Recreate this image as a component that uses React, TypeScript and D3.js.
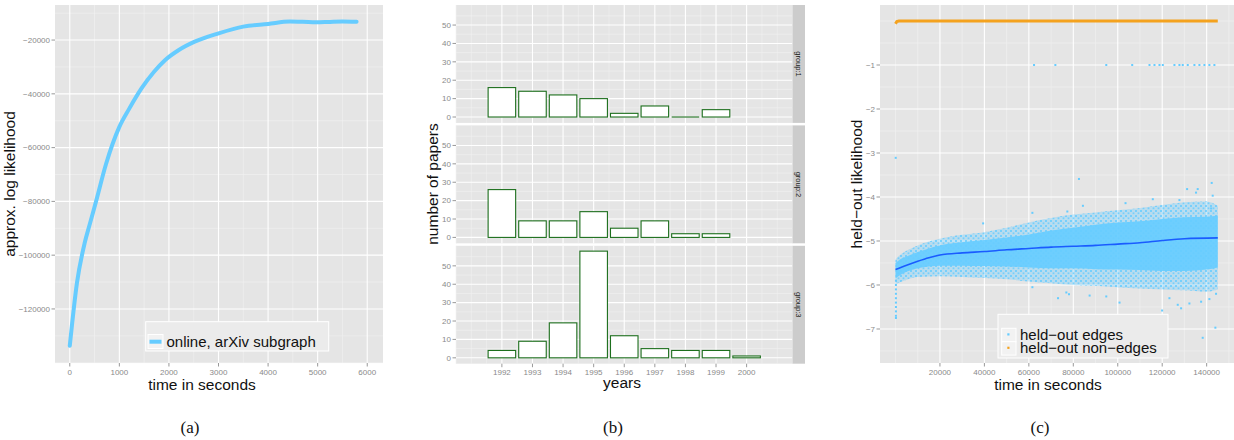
import React from "react";
import * as d3 from "d3";

// ---- panel (a): approx. log likelihood over time ----
const timeA = [0, 145, 300, 400, 530, 730, 1000, 1200, 1450, 1700, 1920, 2200, 2520, 3000, 3500, 4000, 4440, 4700, 4970, 5200, 5500, 5785];
const llA = [-133700, -110300, -95500, -88700, -80000, -66200, -52300, -45500, -37900, -31800, -27500, -23700, -20600, -17500, -15000, -14000, -13100, -13200, -13400, -13300, -13100, -13200];
const xTicksA = [0, 1000, 2000, 3000, 4000, 5000, 6000];
const yTicksA = [-120000, -100000, -80000, -60000, -40000, -20000];

// ---- panel (b): number of papers per year, per group ----
const years = [1992, 1993, 1994, 1995, 1996, 1997, 1998, 1999, 2000];
const group1 = [16, 14, 12, 10, 2, 6, 0, 4];
const group2 = [26, 9, 9, 14, 5, 9, 2, 2];
const group3 = [4, 9, 19, 58, 12, 5, 4, 4, 1];
const groupNames = ["group:1", "group:2", "group:3"];
const yTicksB = [0, 10, 20, 30, 40, 50];

// ---- panel (c): held-out likelihood ----
const xTicksC = [20000, 40000, 60000, 80000, 100000, 120000, 140000];
const yTicksC = [-7, -6, -5, -4, -3, -2, -1];
const smoothT = [0, 5000, 10000, 15000, 20000, 30000, 40000, 50000, 60000, 70000, 80000, 90000, 100000, 110000, 120000, 130000, 145000];
const smoothV = [-5.65, -5.55, -5.46, -5.38, -5.32, -5.27, -5.24, -5.2, -5.17, -5.14, -5.12, -5.1, -5.07, -5.04, -4.99, -4.95, -4.93];
const cloudT = [0, 2000, 5000, 10000, 20000, 30000, 40000, 50000, 60000, 70000, 80000, 90000, 100000, 110000, 120000, 130000, 140000, 145000];
const coreLow = [-5.85, -5.78, -5.7, -5.62, -5.56, -5.56, -5.57, -5.58, -5.6, -5.62, -5.62, -5.64, -5.65, -5.66, -5.68, -5.68, -5.65, -5.6];
const coreHigh = [-5.5, -5.42, -5.35, -5.25, -5.1, -5.03, -4.98, -4.92, -4.85, -4.76, -4.7, -4.63, -4.58, -4.55, -4.5, -4.46, -4.45, -4.42];
const outerLow = [-5.98, -5.94, -5.88, -5.82, -5.8, -5.82, -5.84, -5.87, -5.92, -5.96, -6.0, -6.02, -6.05, -6.08, -6.1, -6.12, -6.15, -6.1];
const outerHigh = [-5.42, -5.32, -5.22, -5.1, -4.95, -4.86, -4.8, -4.7, -4.58, -4.48, -4.4, -4.35, -4.3, -4.25, -4.18, -4.12, -4.1, -4.2];
const outlierT = [62330, 71930, 94830, 106500, 114280, 116520, 118770, 120270, 125500, 127750, 129240, 131490, 134490, 136740, 138990, 141230, 143480,
  100, 82540, 142270, 131200, 135970, 135220, 142720,
  73130, 78060, 76860, 87340, 94830, 61590, 115020, 119960, 123250, 126990, 132240, 138220, 143920, 141230, 144220, 137500, 100800, 128500,
  39430, 61590, 77310, 84320, 103500, 115770, 127750, 142000,
  200, 200, 200, 200, 200, 200, 200, 200, 200, 200];
const outlierV = [-1, -1, -1, -1, -1, -1, -1, -1, -1, -1, -1, -1, -1, -1, -1, -1, -1,
  -3.11, -3.59, -3.68, -3.82, -3.82, -3.9, -3.97,
  -6.3, -6.21, -6.17, -6.24, -6.26, -6.05, -6.73, -6.58, -6.3, -6.45, -6.42, -7.2, -6.97, -6.32, -6.2, -6.38, -6.4, -6.53,
  -4.6, -4.36, -4.33, -4.2, -4.14, -4.05, -4.07, -4.26,
  -5.9, -6.0, -6.1, -6.2, -6.3, -6.4, -6.5, -6.6, -6.7, -6.75];
const nonEdgeT = [0, 600, 1500, 145000];
const nonEdgeV = [-0.06, -0.01, 0, 0];

const FONT = "'Liberation Sans', Arial, Helvetica, sans-serif";
const PANEL_BG = "#e5e5e5";
const TICK_COL = "#7f7f7f";
const TICK_TXT = "#8a8a8a";
const EDGE_BLUE = "#66ccff";
const BAR_GREEN = "#1d6f1d";
const fmt = d3.format("d");

function mids(ticks: number[], lo: number, hi: number) {
  const step = ticks[1] - ticks[0];
  const out: number[] = [];
  for (let v = ticks[0] - step; v <= ticks[ticks.length - 1] + step; v += step / 2) {
    if (!ticks.includes(v) && v >= lo && v <= hi) out.push(v);
  }
  return out;
}

function Grid({ x, y, xt, yt, xMinor, yMinor }: any) {
  const [x0, x1] = x.range();
  const [y1, y0] = y.range();
  return (
    <g>
      <rect x={x0} y={y0} width={x1 - x0} height={y1 - y0} fill={PANEL_BG} />
      {xMinor.map((v: number) => <line key={"xm" + v} x1={x(v)} x2={x(v)} y1={y0} y2={y1} stroke="#f2f2f2" strokeWidth={0.6} />)}
      {yMinor.map((v: number) => <line key={"ym" + v} x1={x0} x2={x1} y1={y(v)} y2={y(v)} stroke="#f2f2f2" strokeWidth={0.6} />)}
      {xt.map((v: number) => <line key={"x" + v} x1={x(v)} x2={x(v)} y1={y0} y2={y1} stroke="#fff" strokeWidth={1.1} />)}
      {yt.map((v: number) => <line key={"y" + v} x1={x0} x2={x1} y1={y(v)} y2={y(v)} stroke="#fff" strokeWidth={1.1} />)}
    </g>
  );
}

function YAxis({ y, ticks, x0 }: any) {
  return (
    <g>
      {ticks.map((v: number) => (
        <g key={v}>
          <line x1={x0 - 3.5} x2={x0} y1={y(v)} y2={y(v)} stroke={TICK_COL} strokeWidth={0.8} />
          <text x={x0 - 5} y={y(v) + 2.8} textAnchor="end" fontSize={8} fill={TICK_TXT} fontFamily={FONT}>{fmt(v)}</text>
        </g>
      ))}
    </g>
  );
}

function XAxis({ x, ticks, y0 }: any) {
  return (
    <g>
      {ticks.map((v: number) => (
        <g key={v}>
          <line x1={x(v)} x2={x(v)} y1={y0} y2={y0 + 3.5} stroke={TICK_COL} strokeWidth={0.8} />
          <text x={x(v)} y={y0 + 11.5} textAnchor="middle" fontSize={8} fill={TICK_TXT} fontFamily={FONT}>{fmt(v)}</text>
        </g>
      ))}
    </g>
  );
}

function PanelA() {
  const x = d3.scaleLinear().domain([-298, 6318]).range([55, 383]);
  const y = d3.scaleLinear().domain([-140100, -6965]).range([363, 5]);
  const line = d3.line<number>().x((_, i) => x(timeA[i])).y((d) => y(d)).curve(d3.curveMonotoneX);
  return (
    <g>
      <Grid x={x} y={y} xt={xTicksA} yt={yTicksA} xMinor={mids(xTicksA, -298, 6318)} yMinor={mids(yTicksA, -140100, -6965)} />
      <path d={line(llA) || ""} fill="none" stroke={EDGE_BLUE} strokeWidth={4} strokeLinecap="round" />
      <YAxis y={y} ticks={yTicksA} x0={55} />
      <XAxis x={x} ticks={xTicksA} y0={363} />
      <g>
        <rect x={145.7} y={321.7} width={183} height={29.3} fill="#ebebeb" stroke="#fff" strokeWidth={1} />
        <rect x={148} y={334.5} width={15} height={14} fill="#f2f2f2" stroke="#fff" strokeWidth={1} />
        <line x1={149.5} x2={161.5} y1={341.7} y2={341.7} stroke={EDGE_BLUE} strokeWidth={4} />
        <text x={166.5} y={346.5} fontSize={15} fontFamily={FONT} fill="#111">online, arXiv subgraph</text>
      </g>
      <text x={202} y={390} textAnchor="middle" fontSize={15.5} fontFamily={FONT} fill="#111">time in seconds</text>
      <text transform="translate(14.5,184) rotate(-90)" textAnchor="middle" fontSize={15.5} fontFamily={FONT} fill="#111">approx. log likelihood</text>
    </g>
  );
}

function PanelB() {
  const x = d3.scaleLinear().domain([1990.5, 2001.5]).range([456, 792.5]);
  const groups = [group1, group2, group3];
  const tops = [5, 125.4, 245.8];
  const h = 117.9;
  const xMinor = [1990.5, 1991, 1991.5, 1992.5, 1993.5, 1994.5, 1995.5, 1996.5, 1997.5, 1998.5, 1999.5, 2000.5, 2001, 2001.5];
  return (
    <g>
      {groups.map((g, gi) => {
        const y = d3.scaleLinear().domain([-3.2, 60.9]).range([tops[gi] + h, tops[gi]]);
        return (
          <g key={gi}>
            <Grid x={x} y={y} xt={years} yt={yTicksB} xMinor={xMinor} yMinor={[5, 15, 25, 35, 45, 55]} />
            {g.map((v, i) => {
              const bx0 = x(years[i] - 0.45);
              const bx1 = x(years[i] + 0.45);
              return v > 0 ? (
                <rect key={i} x={bx0} y={y(v)} width={bx1 - bx0} height={y(0) - y(v)} fill="#fff" stroke={BAR_GREEN} strokeWidth={1.1} />
              ) : (
                <line key={i} x1={bx0} x2={bx1} y1={y(0)} y2={y(0)} stroke={BAR_GREEN} strokeWidth={1.1} />
              );
            })}
            <YAxis y={y} ticks={yTicksB} x0={456} />
            <rect x={792.5} y={tops[gi]} width={12.5} height={h} fill="#cccccc" />
            <text transform={`translate(796,${tops[gi] + h / 2}) rotate(90)`} textAnchor="middle" fontSize={7.5} fontFamily={FONT} fill="#1a1a1a">{groupNames[gi]}</text>
          </g>
        );
      })}
      <XAxis x={x} ticks={years} y0={363.7} />
      <text x={622} y={388} textAnchor="middle" fontSize={15.5} fontFamily={FONT} fill="#111">years</text>
      <text transform="translate(437.5,184) rotate(-90)" textAnchor="middle" fontSize={15.5} fontFamily={FONT} fill="#111">number of papers</text>
    </g>
  );
}

function PanelC() {
  const x = d3.scaleLinear().domain([-6974, 152300]).range([880, 1234]);
  const y = d3.scaleLinear().domain([-7.773, 0.364]).range([363, 5]);
  const band = (lo: number[], hi: number[]) =>
    d3.area<number>().x((t) => x(t)).y0((_, i) => y(lo[i])).y1((_, i) => y(hi[i])).curve(d3.curveMonotoneX)(cloudT) || "";
  const smooth = d3.line<number>().x((_, i) => x(smoothT[i])).y((d) => y(d)).curve(d3.curveMonotoneX);
  const nonEdge = d3.line<number>().x((_, i) => x(nonEdgeT[i])).y((d) => y(d));
  const xMinor = [0, 10000, 30000, 50000, 70000, 90000, 110000, 130000, 150000];
  const yMinor = [0, -0.5, -1.5, -2.5, -3.5, -4.5, -5.5, -6.5, -7.5];
  return (
    <g>
      <defs>
        <pattern id="speck" width={5} height={5} patternUnits="userSpaceOnUse">
          <rect x={0} y={0} width={2} height={2} fill={EDGE_BLUE} />
          <rect x={2.6} y={2.4} width={1.8} height={1.8} fill={EDGE_BLUE} />
        </pattern>
      </defs>
      <Grid x={x} y={y} xt={xTicksC} yt={yTicksC} xMinor={xMinor} yMinor={yMinor} />
      <path d={band(outerLow, outerHigh)} fill={EDGE_BLUE} opacity={0.35} />
      <path d={band(outerLow, outerHigh)} fill="url(#speck)" opacity={0.8} />
      <path d={band(coreLow, coreHigh)} fill={EDGE_BLUE} opacity={0.9} />
      {outlierT.map((t, i) => (
        <rect key={i} x={x(t) - 1} y={y(outlierV[i]) - 1} width={2} height={2} fill={EDGE_BLUE} />
      ))}
      <path d={smooth(smoothV) || ""} fill="none" stroke="#1a5cff" strokeWidth={1.6} />
      <path d={nonEdge(nonEdgeV) || ""} fill="none" stroke="#f4a21e" strokeWidth={3} />
      <YAxis y={y} ticks={yTicksC} x0={880} />
      <XAxis x={x} ticks={xTicksC} y0={363} />
      <g>
        <rect x={998} y={314.3} width={170} height={43.7} fill="#ebebeb" stroke="#fff" strokeWidth={1} />
        <rect x={1001.7} y={328.3} width={14.3} height={13.4} fill="#f2f2f2" stroke="#fff" strokeWidth={1} />
        <rect x={1001.7} y={341.7} width={14.3} height={13.4} fill="#f2f2f2" stroke="#fff" strokeWidth={1} />
        <rect x={1007.3} y={333.3} width={2.2} height={2.2} fill={EDGE_BLUE} />
        <rect x={1007.3} y={346.7} width={2.2} height={2.2} fill="#f4a21e" />
        <text x={1020} y={339.5} fontSize={15} fontFamily={FONT} fill="#111">held−out edges</text>
        <text x={1020} y={352.8} fontSize={15} fontFamily={FONT} fill="#111">held−out non−edges</text>
      </g>
      <text x={1048} y={390} textAnchor="middle" fontSize={15.5} fontFamily={FONT} fill="#111">time in seconds</text>
      <text transform="translate(861.5,184) rotate(-90)" textAnchor="middle" fontSize={15.5} fontFamily={FONT} fill="#111">held−out likelihood</text>
    </g>
  );
}

export default function App() {
  return (
    <svg width={1234} height={440} style={{ position: "absolute", left: 0, top: 0, background: "#fff" }}>
      <PanelA />
      <PanelB />
      <PanelC />
      <g fontFamily="'Liberation Serif', 'Times New Roman', serif" fontSize={17} fill="#111" textAnchor="middle">
        <text x={190} y={433}>(a)</text>
        <text x={613} y={433}>(b)</text>
        <text x={1040} y={433}>(c)</text>
      </g>
    </svg>
  );
}
